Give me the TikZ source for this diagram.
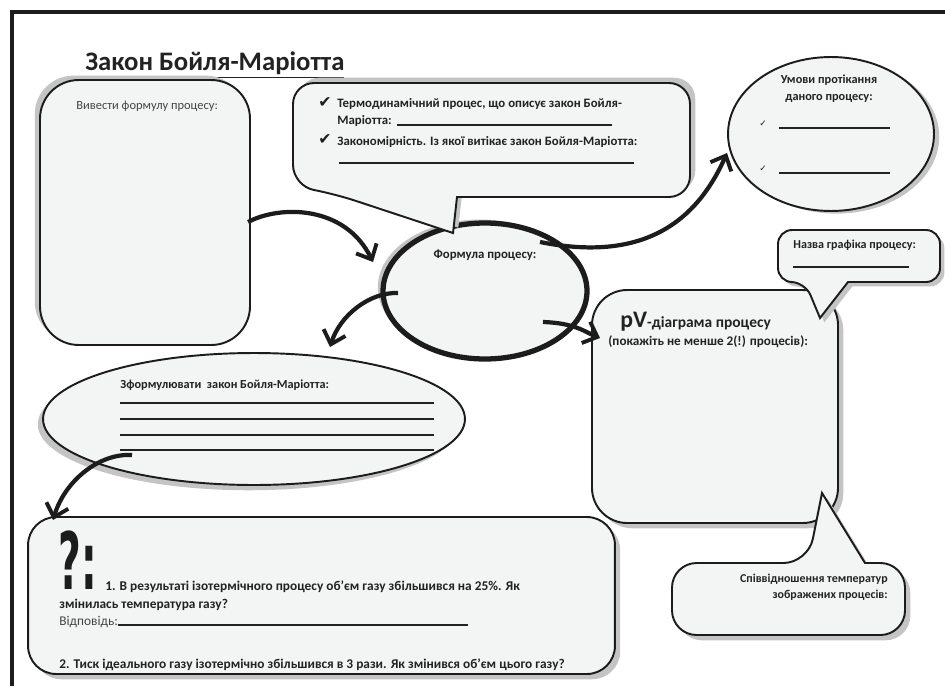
\documentclass[tikz,border=0pt]{standalone}
\usepackage{fontspec}
\setmainfont{Carlito}
\newfontfamily\symfont{DejaVu Sans}
\usetikzlibrary{shapes.geometric,arrows.meta,shadows}
\definecolor{boxfill}{HTML}{F3F4F4}
\definecolor{shade}{HTML}{C4C4C4}
\definecolor{ink}{HTML}{1C1C1C}
\definecolor{txt}{HTML}{222222}
\definecolor{rtxt}{HTML}{454545}
\tikzset{
  outline/.style={draw=ink, fill=boxfill, line width=1.1pt},
  shd/.style 2 args={drop shadow={shadow xshift=#1, shadow yshift=#2, fill=shade, opacity=1}},
  arr/.style={draw=ink, line width=2.4pt, -{Straight Barb[length=7pt,width=13pt,line width=2.2pt]}},
  lbl/.style={font=\fontsize{7.3}{9}\selectfont\bfseries, text=txt, inner sep=0pt, anchor=base west},
  fsz/.style={font=\fontsize{#1}{9}\selectfont\bfseries},
  rlbl/.style={font=\fontsize{7.1}{9}\selectfont, text=rtxt, inner sep=0pt, anchor=base west},
  blank/.style={draw=txt, line width=0.7pt},
  chk/.style={font=\symfont\fontsize{9}{9}\selectfont, text=ink, inner sep=0pt, anchor=base west},
  smallchk/.style={font=\symfont\fontsize{5}{5}\selectfont, text=txt, inner sep=0pt, anchor=base west},
}
\begin{document}
\begin{tikzpicture}[x=0.02cm,y=-0.02cm]
\useasboundingbox (0,0) rectangle (945,686);
% frame
\draw[ink, line width=2.3pt] (12,686) -- (12,12) -- (945,12);

% title
\node[anchor=base west, inner sep=0pt, text=txt, font=\fontsize{15.2}{17}\selectfont\bfseries] (title) at (85,71) {\underline{Закон Бойля-Маріотта}};

% left box
\node[outline, shd={-3pt}{2.5pt}, rounded corners=22pt, minimum width=4.2cm, minimum height=5.3cm] (lbox) at (145,212.5) {};
\node[rlbl] (lboxt) at (76,110) {Вивести формулу процесу:};

% conditions ellipse
\node[ellipse, outline, shd={3pt}{-1.5pt}, minimum width=4.12cm, minimum height=3.08cm] (cond) at (831,134) {};
\node[lbl, fsz=7.0, anchor=base, align=center] (condt1) at (829,84) {Умови протікання};
\node[lbl, fsz=7.0, anchor=base, align=center] (condt2) at (829,100) {даного процесу:};
\node[smallchk] (ck3) at (759,126) {✓};
\node[smallchk] (ck4) at (759,171) {✓};
\draw[blank] (779,128) -- (890,128);
\draw[blank] (779,173) -- (890,173);

% formula ellipse
\node[ellipse, draw=ink, fill=boxfill, line width=3pt, shd={-3pt}{2pt}, minimum width=4.08cm, minimum height=2.72cm] (formula) at (485,291) {};
\node[lbl, anchor=base] (formt) at (485,258) {Формула процесу:};

% top speech bubble
\draw[outline, shd={3pt}{3pt}] (457,197) [rounded corners=12pt] -- (690,197) -- (690,83) -- (293,83) -- (293,186) -- (335,194) [sharp corners] -- (453,233) -- cycle;
\node[chk] (ck1) at (318,107) {✔};
\node[lbl] (tb1) at (337,107) {Термодинамічний процес, що описує закон Бойля-};
\node[lbl] (tb2) at (337,124) {Маріотта:};
\draw[blank] (397,125) -- (612,125);
\node[chk] (ck2) at (318,144) {✔};
\node[lbl] (tb3) at (337,145) {Закономірність. Із якої витікає закон Бойля-Маріотта:};
\draw[blank] (339,163) -- (634,163);

% law ellipse
\node[ellipse, outline, shd={-3pt}{-3pt}, minimum width=8.44cm, minimum height=2.64cm] (law) at (254,419) {};
\node[lbl, fsz=7.0] (lawt) at (120,388) {Зформулювати\ \ закон Бойля-Маріотта:};
\draw[blank] (120,403) -- (434,403);
\draw[blank] (120,419) -- (434,419);
\draw[blank] (120,435) -- (434,435);
\draw[blank] (120,450) -- (434,450);

% pV box
\draw[outline, shd={3pt}{-3pt}, rounded corners=20pt] (592,290) rectangle (838,523);
\node[inner sep=0pt, anchor=base west, text=txt] (pvt1) at (620,327) {{\fontsize{13.5}{14}\selectfont\bfseries pV}{\fontsize{8.8}{10}\selectfont\bfseries -діаграма процесу}};
\node[lbl, fsz=7.5] (pvt2) at (608,345) {(покажіть не менше 2(!) процесів):};

% name bubble
\draw[outline, shd={2.5pt}{-2.5pt}] (848,282) [rounded corners=8pt] -- (940,282) -- (940,230) -- (778,230) -- (778,282) -- (805,282) [sharp corners] -- (820,318) -- cycle;
\node[lbl, fsz=6.9] (namet) at (793,248) {Назва графіка процесу:};
\draw[blank] (793,267) -- (909,267);

% ratio bubble
\draw[outline, shd={3pt}{-3pt}] (865,563) [rounded corners=14pt] -- (905,563) -- (905,635) -- (672,635) -- (672,563) -- (808,563) [sharp corners] -- (822,493) -- cycle;
\node[lbl, fsz=6.8, anchor=base east] (ratt1) at (888,582) {Співвідношення температур};
\node[lbl, fsz=6.8, anchor=base east] (ratt2) at (888,598) {зображених процесів:};

% question bubble
\node[outline, shd={3pt}{-3pt}, rounded corners=16pt, minimum width=11.74cm, minimum height=3.14cm] (qbox) at (321.5,595.5) {};
\node[anchor=base west, inner sep=0pt, text=ink] (qmark) at (58,589) {\scalebox{0.62}[1.25]{\symfont\fontsize{36}{36}\selectfont\bfseries ?:}};
\node[lbl, fsz=7.6] (q1a) at (105,590) {1. В результаті ізотермічного процесу об’єм газу збільшився на 25\%. Як};
\node[lbl, fsz=7.6] (q1b) at (59,608) {змінилась температура газу?};
\node[rlbl, font=\fontsize{7.6}{9}\selectfont] (ans) at (59,625) {Відповідь:};
\draw[blank] (ans.base east) -- (468,625);
\node[lbl, fsz=7.6] (q2) at (59,668) {2. Тиск ідеального газу ізотермічно збільшився в 3 рази. Як змінився об’єм цього газу?};

% arrows
\coordinate (a1s) at (248,222);
\coordinate (a1e) at (373,262);
\coordinate (a2s) at (398,293);
\coordinate (a2e) at (330,347);
\coordinate (a3s) at (540,242);
\coordinate (a3e) at (727,153);
\coordinate (a4s) at (543,322);
\coordinate (a4e) at (600,338);
\coordinate (a5s) at (132,455);
\coordinate (a5e) at (53,520);
\draw[arr] (a1s) .. controls (280,205) and (345,205) .. (a1e);
\draw[arr] (a2s) .. controls (370,292) and (340,315) .. (a2e);
\draw[arr] (a3s) .. controls (640,262) and (695,225) .. (a3e);
\draw[arr] (a4s) .. controls (575,323) and (585,332) .. (a4e);
\draw[arr] (a5s) .. controls (100,453) and (65,480) .. (a5e);
\end{tikzpicture}
\end{document}
